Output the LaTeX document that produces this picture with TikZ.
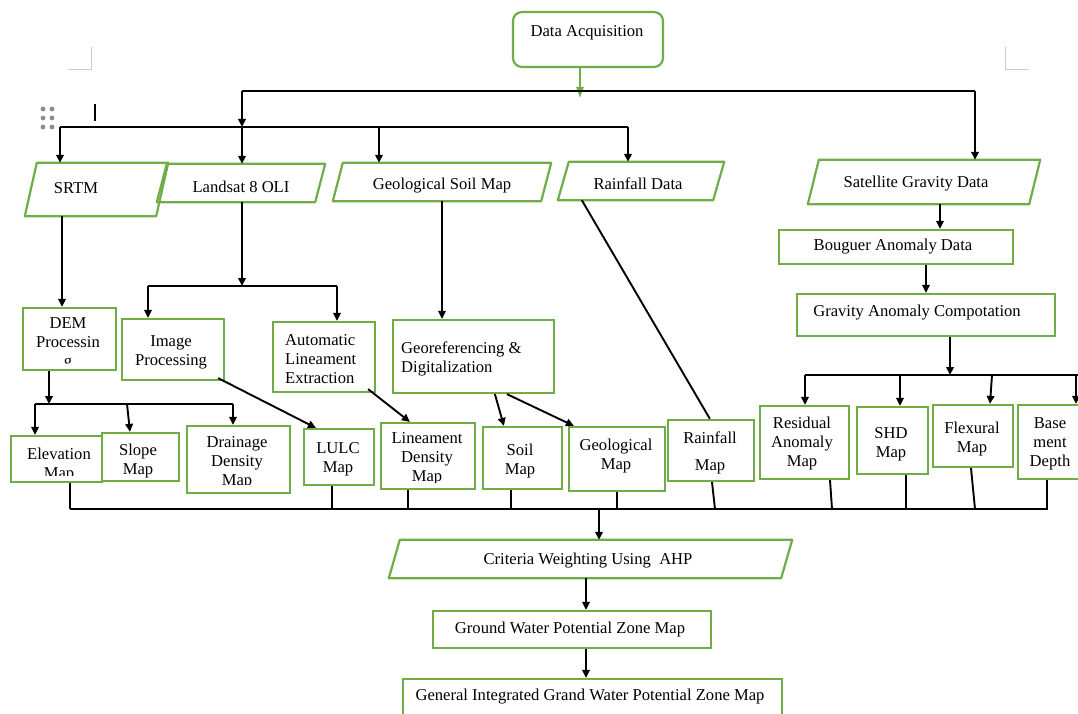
\documentclass[tikz,border=0pt]{standalone}
\usepackage{fontspec}
\setmainfont{Liberation Serif}
\usetikzlibrary{arrows.meta,fit,calc}
\definecolor{gr}{RGB}{112,173,71}
\tikzset{
 gbox/.style={draw=gr, line width=2.2pt, inner sep=0pt},
 hid/.style={inner sep=0pt},
 txt/.style={font=\fontsize{16.6}{19}\selectfont, align=center, inner sep=0pt, yshift=-2pt},
 ln/.style={draw=black, line width=1.9pt},
 ar/.style={ln, -{Triangle[length=8pt,width=7.5pt]}},
}
\newcommand{\rbox}[5]{\node[gbox, fit={(#2,#3)(#4,#5)}] (#1) {};}
\newcommand{\pbox}[6]{\node[hid, fit={(#2,#3)(#4,#5)}] (#1) {};
 \draw[draw=gr, line width=2.2pt, line join=round] ([xshift=#6pt]#1.north west) -- (#1.north east) -- ([xshift=-#6pt]#1.south east) -- (#1.south west) -- cycle;}
\begin{document}
\begin{tikzpicture}[x=1pt,y=-1pt]
\clip (0,0) rectangle (1078,714);
\fill[white] (0,0) rectangle (1078,714);

% decorations of the page
\draw[black!20, line width=1pt] (91,47) -- (91,70) -- (68,70);
\draw[black!20, line width=1pt] (1005,47) -- (1005,70) -- (1029,70);
\foreach \x in {43,52} \foreach \y in {109,118,127} \fill[black!45] (\x,\y) circle (2.4);
\draw[line width=2pt] (95,104) -- (95,121);

% boxes
\node[gbox, rounded corners=9pt, fit={(513,12)(663,67)}] (da) {};
\pbox{srtm}{25}{163}{168}{216}{12}
\pbox{land}{157}{164}{325}{202}{10}
\pbox{gsoil}{333}{163}{551}{201}{10}
\pbox{rain}{558}{162}{724}{200}{11}
\pbox{sat}{808}{160}{1040}{204}{11}
\rbox{boug}{779}{230}{1013}{264}
\rbox{grav}{797}{294}{1055}{336}
\rbox{res}{760}{406}{849}{479}
\rbox{shd}{857}{407}{928}{474}
\rbox{flex}{933}{405}{1013}{467}
\rbox{base}{1018}{405}{1092}{479}
\rbox{rmap}{668}{420}{754}{481}
\rbox{gmap}{569}{427}{665}{491}
\rbox{soil}{483}{427}{562}{489}
\rbox{geor}{393}{320}{554}{393}
\rbox{auto}{273}{322}{375}{392}
\rbox{imgp}{122}{319}{224}{380}
\rbox{lulc}{304}{429}{374}{485}
\rbox{elev}{11}{436}{102}{482}
\rbox{slope}{102}{433}{179}{481}
\pbox{crit}{389}{540}{792}{578}{11}
\rbox{gwpz}{433}{611}{711}{648}
\rbox{gen}{403}{679}{782}{730}

% texts
\node[txt] (da-t) at (587,31) {Data Acquisition};
\node[txt] (srtm-t) at (76,186) {SRTM};
\node[txt] (land-t) at (241,185) {Landsat 8 OLI};
\node[txt] (gsoil-t) at (442,184) {Geological Soil Map};
\node[txt] (rain-t) at (638,182) {Rainfall Data};
\node[txt] (sat-t) at (916,182) {Satellite Gravity Data};
\node[txt] (boug-t) at (893,245) {Bouguer Anomaly Data};
\node[txt] (grav-t) at (917,311) {Gravity Anomaly Compotation};
\node[txt] (res-t) at (802,442) {Residual\\Anomaly\\Map};
\node[txt] (shd-t) at (891,442) {SHD\\Map};
\node[txt] (flex-t) at (972,437) {Flexural\\Map};
\node[txt] (base-t) at (1050,442) {Base\\ment\\Depth};
\node[txt] (rmap-t1) at (710,436) {Rainfall};
\node[txt] (rmap-t2) at (710,465) {Map};
\node[txt] (gmap-t) at (616,454) {Geological\\Map};
\node[txt] (soil-t) at (520,459) {Soil\\Map};
\node[txt, align=left, anchor=west] (geor-t) at (401,357) {Georeferencing \&\\Digitalization};
\node[txt, align=left, anchor=west] (auto-t) at (285,357) {Automatic\\Lineament\\Extraction};
\node[txt] (imgp-t) at (171,350) {Image\\Processing};
\node[txt] (lulc-t) at (338,457) {LULC\\Map};
\node[txt] (slope-t) at (138,459) {Slope\\Map};
\node[txt] (crit-t) at (588,559) {Criteria Weighting Using~ AHP};
\node[txt] (gwpz-t) at (570,628) {Ground Water Potential Zone Map};
\node[txt] (gen-t) at (590,695) {General Integrated Grand Water Potential Zone Map};

% texts cut by their boxes
\begin{scope}
\clip (23,308) rectangle (116,363);
\node[txt] (dem-t) at (68,342) {DEM\\Processin\\g};
\end{scope}
\rbox{dem}{23}{308}{116}{370}
\begin{scope}
\clip (11,436) rectangle (102,475);
\node[txt] (elev-t) at (59,463) {Elevation\\Map};
\end{scope}
\begin{scope}
\clip (187,426) rectangle (290,484);
\node[txt] (drain-t) at (237,461) {Drainage\\Density\\Map};
\end{scope}
\rbox{drain}{187}{426}{290}{493}
\begin{scope}
\clip (381,423) rectangle (475,482);
\node[txt] (lind-t) at (427,457) {Lineament\\Density\\Map};
\end{scope}
\rbox{lind}{381}{423}{475}{489}

% junction coordinates
\coordinate (j1L) at (242,91);
\coordinate (j1R) at (975,91);
\coordinate (j2L) at (60,127);
\coordinate (j2b) at (242,127);
\coordinate (j2c) at (379,127);
\coordinate (j2R) at (628,127);
\coordinate (gtip) at (580,98);
\coordinate (j3) at (950,375);
\coordinate (j3L) at (805,375);
\coordinate (j3b) at (900,375);
\coordinate (j3c) at (992,375);
\coordinate (j3R) at (1078,375);
\coordinate (j3d) at (1076,375);
\coordinate (j4) at (49,404);
\coordinate (j4L) at (35,404);
\coordinate (j4b) at (127,404);
\coordinate (j4R) at (233,404);
\coordinate (j5) at (242,286);
\coordinate (j5L) at (148,286);
\coordinate (j5R) at (337,286);
\coordinate (j6L) at (70,509);
\coordinate (j6R) at (1048,509);
\coordinate (j6c) at (599,509);

% connectors
\draw[draw=gr, line width=2.4pt, -{Triangle[length=11pt,width=7pt]}] (580,0 |- da.south) -- (gtip);
\draw[ln] (j1L) -- (j1R);
\draw[ar] (j1L) -- (j2b);
\draw[ar] (j1R) -- (j1R |- sat.north);
\draw[ln] (j2L) -- (j2R);
\draw[ar] (j2L) -- (j2L |- srtm.north);
\draw[ar] (j2b) -- (j2b |- land.north);
\draw[ar] (j2c) -- (j2c |- gsoil.north);
\draw[ar] (j2R) -- (j2R |- rain.north);

\draw[ar] (940,0 |- sat.south) -- (940,0 |- boug.north);
\draw[ar] (926,0 |- boug.south) -- (926,0 |- grav.north);
\draw[ar] (j3 |- grav.south) -- (j3);
\draw[ln] (j3L) -- (j3R);
\draw[ar] (j3L) -- (j3L |- res.north);
\draw[ar] (j3b) -- (j3b |- shd.north);
\draw[ar] (j3c) -- (990,0 |- flex.north);
\draw[ar] (j3d) -- (j3d |- base.north);

\draw[ar] (62,0 |- srtm.south) -- (62,0 |- dem.north);
\draw[ar] (j4 |- dem.south) -- (j4);
\draw[ln] (j4L) -- (j4R);
\draw[ar] (j4L) -- (j4L |- elev.north);
\draw[ar] (j4b) -- (130,0 |- slope.north);
\draw[ar] (j4R) -- (j4R |- drain.north);

\draw[ar] (j5 |- land.south) -- (j5);
\draw[ln] (j5L) -- (j5R);
\draw[ar] (j5L) -- (j5L |- imgp.north);
\draw[ar] (j5R) -- (j5R |- auto.north);
\draw[ar] ($(imgp.south east)+(-7,-3)$) -- ($(lulc.north west)+(13,0)$);
\draw[ar] ($(auto.south east)+(-8,-4)$) -- ($(lind.north west)+(30,0)$);
\draw[ar] (442,0 |- gsoil.south) -- (442,0 |- geor.north);
\draw[ar] ($(geor.south west)+(103,0)$) -- ($(soil.north west)+(22,0)$);
\draw[ar] ($(geor.south west)+(115,0)$) -- ($(gmap.north west)+(6,0)$);
\draw[ln] ($(rain.south west)+(24,0)$) -- ($(rmap.north west)+(43,0)$);

\draw[ln] (j6L) -- (j6R);
\draw[ln] (j6L |- elev.south) -- (j6L);
\draw[ln] (332,0 |- lulc.south) -- (332,509);
\draw[ln] (408,0 |- lind.south) -- (408,509);
\draw[ln] (511,0 |- soil.south) -- (511,509);
\draw[ln] (617,0 |- gmap.south) -- (617,509);
\draw[ln] (712,0 |- rmap.south) -- (715,509);
\draw[ln] (830,0 |- res.south) -- (832,509);
\draw[ln] (906,0 |- shd.south) -- (906,509);
\draw[ln] (971,0 |- flex.south) -- (975,509);
\draw[ln] (1047,0 |- base.south) -- (1047,509);
\draw[ar] (j6c) -- (j6c |- crit.north);
\draw[ar] (586,0 |- crit.south) -- (586,0 |- gwpz.north);
\draw[ar] (586,0 |- gwpz.south) -- (586,0 |- gen.north);
\end{tikzpicture}
\end{document}
